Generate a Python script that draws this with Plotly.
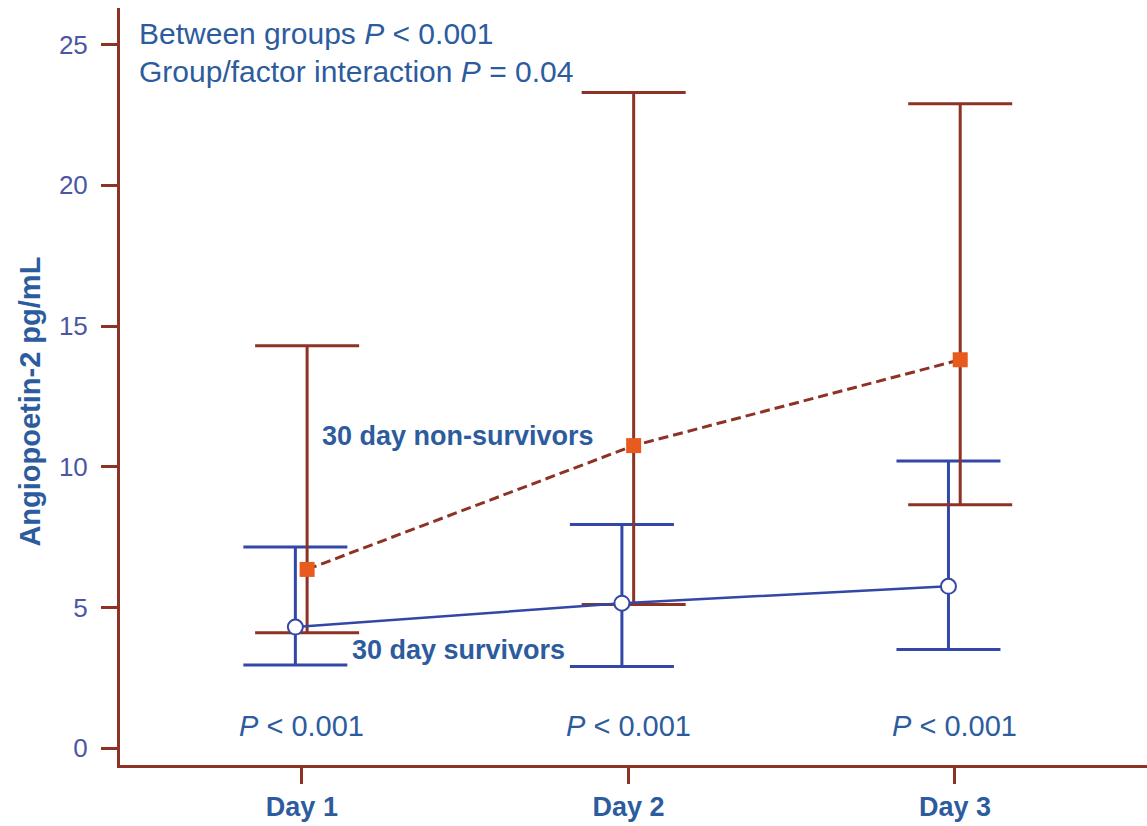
import plotly.graph_objects as go

# Study days and group summaries (mean with lower / upper interval bounds), pg/mL
days = ["Day 1", "Day 2", "Day 3"]

survivors_mean = [4.3, 5.15, 5.75]
survivors_low = [2.95, 2.9, 3.5]
survivors_high = [7.15, 7.95, 10.2]

nonsurvivors_mean = [6.35, 10.75, 13.8]
nonsurvivors_low = [4.1, 5.1, 8.65]
nonsurvivors_high = [14.3, 23.3, 22.9]

y_ticks = [0, 5, 10, 15, 20, 25]

BROWN = "#8E3226"
ORANGE = "#E85A1E"
BLUE = "#3247A6"
TEXT_BLUE = "#2D5C9E"
TICK_BLUE = "#4C56A3"
FONT = "Liberation Sans, Arial, sans-serif"

# small horizontal dodge so the two groups' bars do not overlap
idx = list(range(1, len(days) + 1))
x_surv = [i - 0.02 for i in idx]
x_non = [i + 0.016 for i in idx]

fig = go.Figure()

# error bars first
fig.add_trace(go.Scatter(
    x=x_surv, y=survivors_mean, mode="markers",
    marker=dict(size=1, opacity=0),
    error_y=dict(type="data", symmetric=False,
                 array=[h - m for h, m in zip(survivors_high, survivors_mean)],
                 arrayminus=[m - l for m, l in zip(survivors_mean, survivors_low)],
                 color=BLUE, thickness=3, width=52),
    hoverinfo="skip", showlegend=False))

fig.add_trace(go.Scatter(
    x=x_non, y=nonsurvivors_mean, mode="markers",
    marker=dict(size=1, opacity=0),
    error_y=dict(type="data", symmetric=False,
                 array=[h - m for h, m in zip(nonsurvivors_high, nonsurvivors_mean)],
                 arrayminus=[m - l for m, l in zip(nonsurvivors_mean, nonsurvivors_low)],
                 color=BROWN, thickness=3, width=52),
    hoverinfo="skip", showlegend=False))

# mean lines
fig.add_trace(go.Scatter(
    x=x_surv, y=survivors_mean, mode="lines+markers",
    line=dict(color=BLUE, width=2.5),
    marker=dict(symbol="circle", size=15, color="white",
                line=dict(color=BLUE, width=2)),
    name="30 day survivors", showlegend=False))

fig.add_trace(go.Scatter(
    x=x_non, y=nonsurvivors_mean, mode="lines+markers",
    line=dict(color=BROWN, width=3, dash="10px,5px"),
    marker=dict(symbol="square", size=15, color=ORANGE,
                line=dict(color=ORANGE, width=0)),
    name="30 day non-survivors", showlegend=False))

annotations = [
    dict(x=0.495, y=25.4, xref="x", yref="y", xanchor="left", yanchor="middle",
         text="Between groups <i>P</i> < 0.001", showarrow=False,
         font=dict(family=FONT, size=30, color=TEXT_BLUE)),
    dict(x=0.495, y=24.05, xref="x", yref="y", xanchor="left", yanchor="middle",
         text="Group/factor interaction <i>P</i> = 0.04", showarrow=False,
         font=dict(family=FONT, size=30, color=TEXT_BLUE)),
    dict(x=1.055, y=11.1, xref="x", yref="y", xanchor="left", yanchor="middle",
         text="<b>30 day non-survivors</b>", showarrow=False,
         font=dict(family=FONT, size=27, color=TEXT_BLUE)),
    dict(x=1.147, y=3.5, xref="x", yref="y", xanchor="left", yanchor="middle",
         text="<b>30 day survivors</b>", showarrow=False,
         font=dict(family=FONT, size=27, color=TEXT_BLUE)),
    dict(x=-0.088, y=12.3, xref="paper", yref="y", xanchor="center", yanchor="middle",
         text="<b>Angiopoetin-2 pg/mL</b>", textangle=-90, showarrow=False,
         font=dict(family=FONT, size=29, color=TEXT_BLUE)),
]
for i in idx:
    annotations.append(dict(
        x=i, y=0.8, xref="x", yref="y", xanchor="center", yanchor="middle",
        text="<i>P</i> < 0.001", showarrow=False,
        font=dict(family=FONT, size=29, color=TEXT_BLUE)))

fig.update_layout(
    width=1147, height=826,
    margin=dict(l=120, r=0, t=8, b=61),
    paper_bgcolor="white", plot_bgcolor="white",
    annotations=annotations,
    xaxis=dict(
        range=[0.443, 3.588], tickvals=idx, ticktext=[f"<b>{d}</b>" for d in days],
        showgrid=False, zeroline=False, showline=True, linecolor=BROWN, linewidth=3,
        ticks="outside", ticklen=16, tickwidth=3, tickcolor=BROWN,
        tickfont=dict(family=FONT, size=27, color=TEXT_BLUE),
    ),
    yaxis=dict(
        range=[-0.6, 26.3], tickvals=y_ticks, ticktext=[str(v) for v in y_ticks],
        showgrid=False, zeroline=False, showline=True, linecolor=BROWN, linewidth=3,
        ticks="outside", ticklen=16, tickwidth=3, tickcolor=BROWN,
        tickfont=dict(family=FONT, size=26, color=TICK_BLUE),
        ticklabelstandoff=8,
    ),
)

fig.write_html("out.html")
